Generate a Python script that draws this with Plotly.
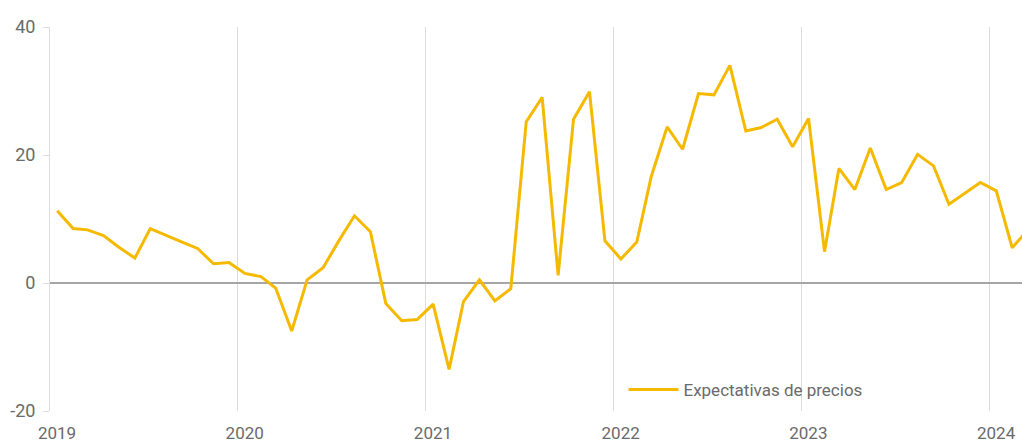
import plotly.graph_objects as go

dates = [f"{y}-{m:02d}-15" for y in range(2019, 2025) for m in range(1, 13)][:63]

values = [
    11.3, 8.5, 8.3, 7.4, 5.6, 3.9, 8.5, 7.5, 6.4, 5.4, 3.0, 3.2,
    1.5, 1.0, -0.8, -7.5, 0.5, 2.4, 6.5, 10.5, 8.0, -3.2, -5.9, -5.7,
    -3.3, -13.5, -2.9, 0.5, -2.8, -0.9, 25.2, 29.0, 1.2, 25.6, 29.9, 6.6,
    3.75, 6.4, 16.6, 24.4, 20.9, 29.6, 29.4, 34.0, 23.75, 24.3, 25.6, 21.3,
    25.7, 4.9, 17.9, 14.6, 21.1, 14.6, 15.7, 20.1, 18.3, 12.3, 14.0, 15.7,
    14.4, 5.5, 8.2,
]
series_name = "Expectativas de precios"
year_ticks = ["2019-01-01", "2020-01-01", "2021-01-01", "2022-01-01", "2023-01-01", "2024-01-01"]
year_labels = ["2019", "2020", "2021", "2022", "2023", "2024"]
y_ticks = [-20, 0, 20, 40]
y_labels = ["-20", "0", "20", "40"]

font_color = "#6a6a6a"

fig = go.Figure()
fig.add_trace(go.Scatter(
    x=dates, y=values, mode="lines", name=series_name,
    line=dict(color="#F5BA00", width=3),
))

fig.update_layout(
    width=1022, height=443,
    margin=dict(l=50, r=0, t=27, b=32, autoexpand=False),
    paper_bgcolor="white", plot_bgcolor="white",
    font=dict(family="Roboto, Arial, sans-serif", size=17, color=font_color),
    showlegend=True,
    legend=dict(
        x=0.59, y=0.055, xanchor="left", yanchor="middle",
        bgcolor="rgba(0,0,0,0)", font=dict(size=17, color=font_color),
        itemwidth=50,
    ),
    xaxis=dict(
        type="date", automargin=False,
        range=["2019-01-01", "2024-03-05"],
        tickvals=year_ticks, ticktext=year_labels,
        showgrid=True, gridcolor="#dcdcdc", gridwidth=1,
        zeroline=False, showline=False, ticks="",
        ticklabelshift=7, ticklabelstandoff=10,
        tickfont=dict(size=17, color=font_color),
    ),
    yaxis=dict(
        automargin=False,
        range=[-20, 40], tickvals=y_ticks, ticktext=y_labels,
        showgrid=False,
        zeroline=True, zerolinecolor="#a6a6a6", zerolinewidth=2,
        showline=True, linecolor="#dcdcdc", linewidth=1,
        ticks="outside", ticklen=6, tickcolor="#dcdcdc",
        ticklabelstandoff=4,
        tickfont=dict(size=18, color=font_color),
    ),
)

fig.write_html(
    "out.html",
    config={"displayModeBar": False},
    post_script="document.body.style.margin='0';document.body.style.overflow='hidden';",
)
